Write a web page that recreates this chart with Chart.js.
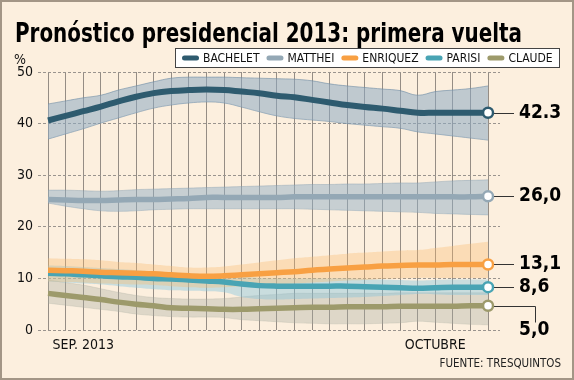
<!DOCTYPE html>
<html><head><meta charset="utf-8">
<script src="https://cdn.jsdelivr.net/npm/chart.js@4"></script>
<style>html,body{margin:0;padding:0;background:#fcefde;}#wrap{width:574px;height:380px;}</style>
</head><body><div id="wrap"><canvas id="c" width="574" height="380"></canvas></div>
<script>
// ---- data ----
const xLabels = ["","","SEP. 2013","","","","","","","","","","","","","","","","","","","","OCTUBRE","","",""];
const yTicks = [0,10,20,30,40,50];
const candidates = ["BACHELET","MATTHEI","ENRIQUEZ","PARISI","CLAUDE"];
const endLabels = ["42.3","26,0","13,1","8,6","5,0"];

const bachelet     = [40.6,41.5,42.4,43.3,44.3,45.2,45.9,46.3,46.5,46.6,46.5,46.2,45.9,45.4,45.1,44.6,44.1,43.6,43.2,42.9,42.5,42.1,42.1,42.1,42.1,42.1];
const bacheletHigh = [43.8,44.4,45.0,45.5,46.5,47.3,48.1,48.8,49.0,49.0,49.0,48.9,48.8,48.7,48.6,48.3,47.7,47.3,47.0,46.7,46.4,45.5,46.2,46.5,46.8,47.3];
const bacheletLow  = [37.0,38.0,39.0,40.1,41.1,42.1,43.0,43.6,44.0,44.2,44.0,43.2,42.3,41.5,41.0,40.7,40.4,40.0,39.7,39.4,39.1,38.4,38.0,37.6,37.2,36.8];

const matthei      = [25.3,25.2,25.1,25.1,25.2,25.3,25.3,25.4,25.5,25.7,25.7,25.7,25.7,25.7,25.8,25.8,25.8,25.8,25.8,25.8,25.8,25.8,25.8,25.8,25.8,25.9];
const mattheiHigh  = [27.1,27.1,27.0,26.9,27.0,27.2,27.3,27.4,27.5,27.6,27.7,27.8,27.9,28.0,28.1,28.2,28.2,28.3,28.3,28.4,28.5,28.5,28.7,28.9,29.0,29.1];
const mattheiLow   = [24.6,24.0,23.5,23.1,23.0,23.1,23.3,23.4,23.5,23.5,23.5,23.5,23.5,23.5,23.5,23.4,23.3,23.2,23.1,23.0,22.9,22.8,22.6,22.5,22.4,22.3];

const enriquez     = [11.6,11.5,11.4,11.2,11.1,11.0,10.9,10.7,10.5,10.4,10.5,10.7,10.9,11.1,11.3,11.6,11.8,12.0,12.2,12.4,12.5,12.6,12.6,12.7,12.7,12.7];
const enriquezHigh = [13.9,13.8,13.7,13.5,13.2,13.0,12.7,12.4,12.1,12.1,12.3,12.7,13.1,13.5,13.9,14.2,14.5,14.8,15.0,15.2,15.4,15.5,15.9,16.3,16.7,17.1];
const enriquezLow  = [9.4,9.3,9.2,9.0,8.9,8.8,8.7,8.5,8.3,8.2,8.3,8.5,8.6,8.8,9.0,9.2,9.4,9.6,9.7,9.9,10.0,10.1,10.1,10.1,10.1,10.1];

const parisi       = [11.0,10.9,10.7,10.5,10.3,10.2,10.0,9.9,9.7,9.5,9.3,8.9,8.6,8.5,8.5,8.5,8.5,8.5,8.4,8.3,8.2,8.1,8.2,8.3,8.3,8.3];
const parisiHigh   = [12.5,12.4,12.2,12.0,11.8,11.6,11.4,11.2,11.0,10.8,10.6,10.3,10.1,10.0,10.0,10.0,10.0,10.0,9.9,9.8,9.7,9.6,9.7,9.8,9.8,9.8];
const parisiLow    = [9.4,9.2,9.0,8.8,8.5,8.2,7.9,7.7,7.6,7.5,7.3,6.4,6.0,5.9,6.0,6.1,6.2,6.3,6.4,6.6,6.8,7.0,6.9,6.8,6.8,6.8];

const claude       = [7.1,6.7,6.3,5.9,5.4,5.0,4.7,4.3,4.2,4.1,4.0,4.0,4.1,4.2,4.3,4.4,4.4,4.5,4.5,4.5,4.6,4.6,4.6,4.6,4.7,4.7];
const claudeHigh   = [9.7,9.2,8.7,8.0,7.3,6.7,6.3,6.1,6.0,6.0,6.1,6.4,6.7,6.9,7.1,7.1,7.1,7.1,7.1,7.1,7.2,7.2,7.2,7.2,7.2,7.2];
const claudeLow    = [5.2,4.8,4.4,4.0,3.6,3.1,2.8,2.6,2.5,2.5,2.4,2.0,1.8,1.6,1.4,1.3,1.2,1.2,1.2,1.3,1.4,1.7,1.5,1.3,1.1,1.0];

// ---- styles ----
const FONT = '"DejaVu Sans Condensed", "DejaVu Sans", sans-serif';
const lineColors = ["#2e5b6f","#94a8b5","#f8a043","#49a4b4","#9d9a6b"];
const bandFills  = ["rgba(140,170,195,0.55)","rgba(145,175,198,0.5)","rgba(250,185,110,0.35)","rgba(130,195,222,0.42)","rgba(165,172,160,0.35)"];
const bandEdges  = ["rgba(110,140,165,0.6)","rgba(130,155,175,0.4)","rgba(250,185,110,0.0)","rgba(130,195,222,0.0)","rgba(160,165,150,0.25)"];

const series = [bachelet, matthei, enriquez, parisi, claude];
const highs = [bacheletHigh, mattheiHigh, enriquezHigh, parisiHigh, claudeHigh];
const lows  = [bacheletLow, mattheiLow, enriquezLow, parisiLow, claudeLow];
const toXY = arr => arr.map((v,i)=>({x:i,y:v}));
const last = xLabels.length - 1;

const datasets = [];
series.forEach((s,i)=>{
  datasets.push({
    label: candidates[i], data: toXY(s), borderColor: lineColors[i], borderWidth: i===0?6:5.5,
    tension: 0.4, fill: false, order: 0, clip: false,
    pointRadius: c => c.dataIndex === last ? 5 : 0,
    pointBackgroundColor: "#ffffff", pointBorderColor: lineColors[i], pointBorderWidth: 2.5,
    pointHoverRadius: 0
  });
});
// band pairs: upper fills to lower
series.forEach((s,i)=>{
  const upperIdx = datasets.length;
  datasets.push({
    label: candidates[i]+"_hi", data: toXY(highs[i]), borderColor: bandEdges[i], borderWidth: 1,
    backgroundColor: bandFills[i], fill: upperIdx+1, tension: 0.4, pointRadius: 0, order: 1
  });
  datasets.push({
    label: candidates[i]+"_lo", data: toXY(lows[i]), borderColor: bandEdges[i], borderWidth: 1,
    fill: false, tension: 0.4, pointRadius: 0, order: 1
  });
});

const decor = {
  id: 'decor',
  beforeDraw(chart){
    const ctx = chart.ctx;
    ctx.save();
    ctx.fillStyle = '#fcefde';
    ctx.fillRect(0,0,chart.width,chart.height);
    ctx.restore();
  },
  afterDraw(chart){
    const ctx = chart.ctx;
    ctx.save();
    // title
    const title = "Pronóstico presidencial 2013: primera vuelta";
    ctx.font = 'bold 27px ' + FONT;
    ctx.fillStyle = '#000';
    ctx.textBaseline = 'alphabetic';
    const tw = ctx.measureText(title).width;
    const sx = Math.min(1, 507 / tw);
    ctx.save(); ctx.translate(15, 42); ctx.scale(sx, 1); ctx.fillText(title, 0, 0); ctx.restore();
    // percent sign
    ctx.font = '14px ' + FONT;
    ctx.fillStyle = '#111';
    ctx.fillText('%', 14, 64);
    // legend box
    ctx.fillStyle = '#fff';
    ctx.fillRect(175.5, 48.5, 384, 19);
    ctx.strokeStyle = '#444'; ctx.lineWidth = 1;
    ctx.strokeRect(175.5, 48.5, 384, 19);
    ctx.font = '12px ' + FONT;
    ctx.textBaseline = 'middle';
    let lx = 182;
    candidates.forEach((name,i)=>{
      ctx.strokeStyle = lineColors[i]; ctx.lineWidth = 5; ctx.lineCap = 'round';
      ctx.beginPath(); ctx.moveTo(lx+2.5, 58); ctx.lineTo(lx+14.5, 58); ctx.stroke();
      ctx.fillStyle = '#111';
      ctx.fillText(name, lx+21, 58.5);
      lx += 21 + ctx.measureText(name).width + 7;
    });
    ctx.lineCap = 'butt';
    // end labels
    ctx.font = 'bold 19px ' + FONT;
    ctx.fillStyle = '#000';
    candidates.forEach((name,i)=>{
      const pt = chart.getDatasetMeta(i).data[last];
      ctx.strokeStyle = '#333'; ctx.lineWidth = 1;
      ctx.beginPath();
      const y = Math.round(pt.y)+0.5;
      ctx.moveTo(pt.x+6, y);
      let ty = pt.y;
      if (i === candidates.length-1){
        ctx.lineTo(535.5, y); ctx.lineTo(535.5, y+16);
        ty = pt.y + 24;
      } else {
        ctx.lineTo(514, y);
      }
      ctx.stroke();
      ctx.fillText(endLabels[i], 519, ty);
    });
    // source
    ctx.font = '11.5px ' + FONT;
    ctx.fillStyle = '#222';
    ctx.textAlign = 'right';
    ctx.textBaseline = 'alphabetic';
    ctx.fillText('FUENTE: TRESQUINTOS', 561, 367);
    // outer border
    ctx.strokeStyle = '#a39686'; ctx.lineWidth = 2;
    ctx.strokeRect(1, 1, chart.width-2, chart.height-2);
    ctx.restore();
  }
};

new Chart(document.getElementById('c'), {
  type: 'line',
  data: { datasets },
  plugins: [decor],
  options: {
    responsive: false, devicePixelRatio: 1, animation: false,
    layout: { padding: { top: 72, right: 74, bottom: 0, left: 0 } },
    plugins: { legend: { display: false }, title: { display: false }, tooltip: { enabled: false } },
    events: [],
    scales: {
      x: {
        type: 'linear', min: -0.57, max: 25.68,
        afterBuildTicks: s => { s.ticks = xLabels.map((_,i)=>({value:i})); },
        afterFit: s => { s.height = 50; },
        ticks: { autoSkip: false, maxRotation: 0, padding: 7, color: '#111',
                 font: { family: FONT, size: 14 },
                 callback: v => xLabels[v] ?? '' },
        grid: { color: 'rgba(105,100,95,0.7)', lineWidth: 1, drawTicks: false },
        border: { display: false }
      },
      y: {
        min: 0, max: 50,
        afterBuildTicks: s => { s.ticks = yTicks.map(v=>({value:v})); },
        afterFit: s => { s.width = 38; },
        ticks: { padding: 5, color: '#111', font: { family: FONT, size: 14 } },
        grid: { color: '#9a948e', lineWidth: 1, drawTicks: false },
        border: { display: false, dash: [3,2] }
      }
    }
  }
});
</script>
</body></html>
